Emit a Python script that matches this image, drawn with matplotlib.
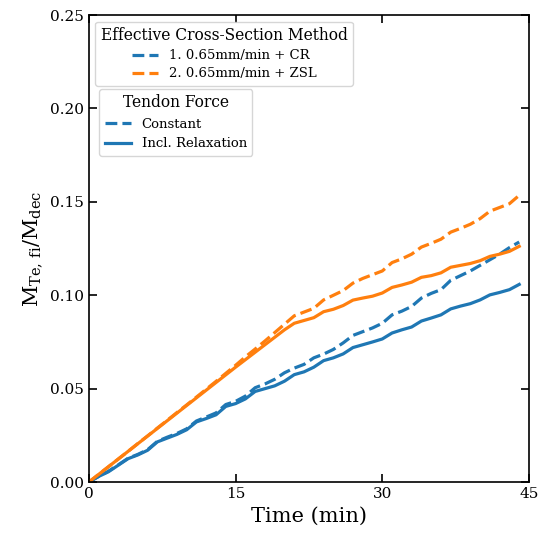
import matplotlib
matplotlib.use("Agg")
import matplotlib.pyplot as plt
from matplotlib.lines import Line2D

plt.rcParams['font.family'] = ['DejaVu Serif']
plt.rcParams['mathtext.fontset'] = 'dejavuserif'

t = list(range(0, 45))

cr_relax = [0, 0.003, 0.0055, 0.009, 0.0125, 0.0145, 0.017, 0.0215, 0.0235, 0.0255,
            0.028, 0.0322, 0.034, 0.036, 0.0405, 0.042, 0.0445, 0.0485, 0.050, 0.0515,
            0.054, 0.0575, 0.059, 0.0615, 0.065, 0.0665, 0.0686, 0.072, 0.0735, 0.075,
            0.0766, 0.0798, 0.0815, 0.083, 0.0862, 0.0878, 0.0895, 0.0927, 0.0942, 0.0955,
            0.0975, 0.1002, 0.1015, 0.103, 0.1058]

cr_const = [0, 0.003, 0.0058, 0.0092, 0.0127, 0.0148, 0.0173, 0.0218, 0.024, 0.026,
            0.0285, 0.0327, 0.0348, 0.037, 0.0415, 0.0432, 0.046, 0.0505, 0.0525, 0.055,
            0.0585, 0.061, 0.063, 0.0665, 0.0685, 0.071, 0.0745, 0.0785, 0.0805, 0.0825,
            0.085, 0.0895, 0.0915, 0.094, 0.0985, 0.101, 0.103, 0.108, 0.1105, 0.113,
            0.116, 0.119, 0.122, 0.1255, 0.1285]

zsl_relax = [0, 0.0041, 0.0082, 0.0123, 0.0164, 0.0205, 0.0246, 0.0287, 0.0328, 0.0369,
             0.041, 0.0451, 0.0492, 0.0533, 0.0574, 0.0615, 0.0655, 0.0695, 0.0735, 0.0775,
             0.0815, 0.085, 0.0865, 0.088, 0.0912, 0.0925, 0.0945, 0.0974, 0.0985, 0.0995,
             0.1012, 0.1042, 0.1055, 0.107, 0.1096, 0.1105, 0.112, 0.115, 0.116, 0.117,
             0.1185, 0.1208, 0.122, 0.1235, 0.1262]

zsl_const = [0, 0.0041, 0.0082, 0.0123, 0.0164, 0.0206, 0.0247, 0.0289, 0.033, 0.0372,
             0.0413, 0.0455, 0.0497, 0.0539, 0.0582, 0.0625, 0.067, 0.0712, 0.0755, 0.080,
             0.0845, 0.089, 0.091, 0.093, 0.0975, 0.100, 0.1025, 0.1065, 0.109, 0.111,
             0.113, 0.1175, 0.1195, 0.122, 0.1258, 0.1278, 0.130, 0.1338, 0.1358, 0.138,
             0.141, 0.145, 0.147, 0.149, 0.1535]

blue = '#1f77b4'
orange = '#ff7f0e'

fig = plt.figure(figsize=(5.42, 5.38), dpi=100)
ax = fig.add_axes([0.164, 0.104, 0.812, 0.868])

lw = 2.3
ax.plot(t, cr_const, color=blue, lw=lw, ls='--')
ax.plot(t, zsl_const, color=orange, lw=lw, ls='--')
ax.plot(t, cr_relax, color=blue, lw=lw, ls='-')
ax.plot(t, zsl_relax, color=orange, lw=lw, ls='-')

ax.set_xlim(0, 45)
ax.set_ylim(0, 0.25)
ax.set_xticks([0, 15, 30, 45])
ax.set_yticks([0, 0.05, 0.10, 0.15, 0.20, 0.25])
ax.set_yticklabels(['0.00', '0.05', '0.10', '0.15', '0.20', '0.25'])
ax.tick_params(direction='in', top=True, right=True, length=6, width=1.2, labelsize=11)
for s in ax.spines.values():
    s.set_linewidth(1.2)

ax.set_xlabel('Time (min)', fontsize=15)
ax.set_ylabel(r'$\mathrm{M_{Te,\,fi}/M_{dec}}$', fontsize=15)

h1 = [Line2D([], [], color=blue, lw=lw, ls='--'),
      Line2D([], [], color=orange, lw=lw, ls='--')]
leg1 = ax.legend(h1, ['1. 0.65mm/min + CR', '2. 0.65mm/min + ZSL'],
                 title='Effective Cross-Section Method', loc='upper left',
                 bbox_to_anchor=(0.0, 1.0), fontsize=9.5, title_fontsize=11.2,
                 handlelength=2.0, borderaxespad=0.5, labelspacing=0.4)
ax.add_artist(leg1)
h2 = [Line2D([], [], color=blue, lw=lw, ls='--'),
      Line2D([], [], color=blue, lw=lw, ls='-')]
ax.legend(h2, ['Constant', 'Incl. Relaxation'], title='Tendon Force',
          loc='upper left', bbox_to_anchor=(0.009, 0.856), fontsize=9.5,
          title_fontsize=11.2, handlelength=2.0, borderaxespad=0.5, labelspacing=0.5)

fig.savefig('out.png', dpi=100)
